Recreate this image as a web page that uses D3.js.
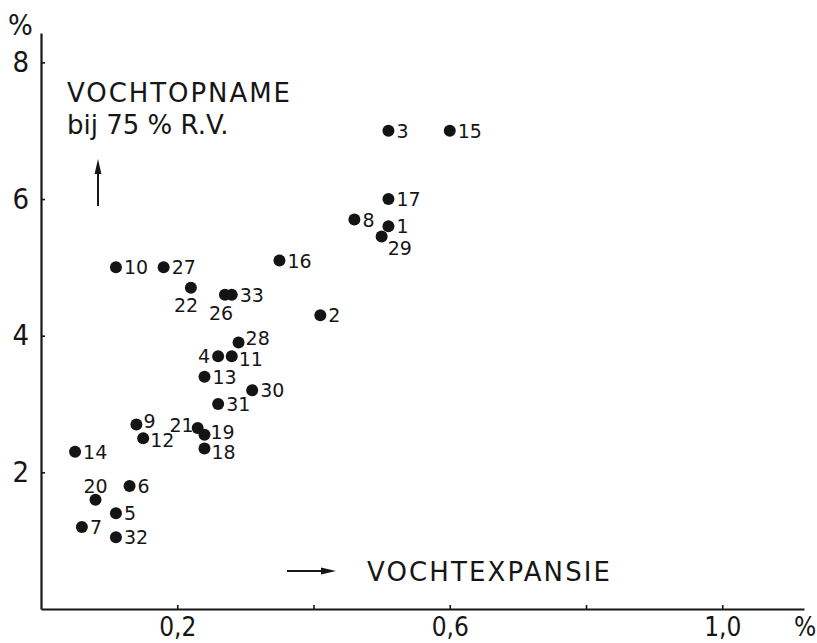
<!DOCTYPE html>
<html>
<head>
<meta charset="utf-8">
<script src="https://cdn.jsdelivr.net/npm/d3@7"></script>
<style>
  html, body { margin: 0; padding: 0; background: #fff; }
  svg { display: block; }
  text { fill: #161616; }
</style>
</head>
<body>
<svg id="chart" width="817" height="643"></svg>
<script>
// Sample numbers and their measured moisture expansion (%) and moisture uptake at 75 % RH (%)
const sampleIds = [1, 2, 3, 4, 5, 6, 7, 8, 9, 10, 11, 12, 13, 14, 15, 16, 17,
                   18, 19, 20, 21, 22, 26, 27, 28, 29, 30, 31, 32, 33];
const expansion = [0.51, 0.41, 0.51, 0.26, 0.11, 0.13, 0.06, 0.46, 0.14, 0.11, 0.28, 0.15, 0.24, 0.05, 0.60, 0.35, 0.51,
                   0.24, 0.24, 0.08, 0.23, 0.22, 0.27, 0.18, 0.29, 0.50, 0.31, 0.26, 0.11, 0.28];
const uptake    = [5.6, 4.3, 7.0, 3.7, 1.4, 1.8, 1.2, 5.7, 2.7, 5.0, 3.7, 2.5, 3.4, 2.3, 7.0, 5.1, 6.0,
                   2.35, 2.55, 1.6, 2.65, 4.7, 4.6, 5.0, 3.9, 5.45, 3.2, 3.0, 1.05, 4.6];

const xTicks = [0.2, 0.4, 0.6, 0.8, 1.0];
const xTickLabels = ["0,2", "", "0,6", "", "1,0"];
const yTicks = [2, 4, 6, 8];
const yTickLabels = ["2", "4", "6", "8"];

const points = sampleIds.map((id, i) => ({ id, x: expansion[i], y: uptake[i] }));

const svg = d3.select("#chart");
const tickFont = '"DejaVu Sans Condensed", "Liberation Sans Narrow", "DejaVu Sans", sans-serif';
const labelFont = '"DejaVu Sans", sans-serif';

const x = d3.scaleLinear().domain([0, 1.12]).range([41, 41 + 1.12 * 681.25]);
const y = d3.scaleLinear().domain([0, 8.43]).range([609, 33]);

// Axes: ticks point into the plot, outer ticks suppressed
const xAxis = d3.axisBottom(x)
  .tickValues(xTicks)
  .tickFormat((d, i) => xTickLabels[i])
  .tickSizeInner(-4).tickSizeOuter(0).tickPadding(9);
const yAxis = d3.axisLeft(y)
  .tickValues(yTicks)
  .tickFormat((d, i) => yTickLabels[i])
  .tickSizeInner(-4).tickSizeOuter(0).tickPadding(12);

const gx = svg.append("g").attr("transform", `translate(0,${y(0)})`).call(xAxis);
const gy = svg.append("g").attr("transform", `translate(${x(0)},0)`).call(yAxis);

[gx, gy].forEach(g => {
  g.select(".domain").attr("stroke", "#161616").attr("stroke-width", 2.2);
  g.selectAll(".tick line").attr("stroke", "#161616").attr("stroke-width", 1.6);
  g.selectAll(".tick text")
    .attr("fill", "#161616")
    .style("font-family", tickFont);
});
gx.selectAll(".tick text").style("font-size", "26px");
gy.selectAll(".tick text").style("font-size", "29px");

// Unit labels
svg.append("text").attr("x", 8).attr("y", 35)
  .style("font-family", tickFont).style("font-size", "29px").text("%");
svg.append("text").attr("x", 794).attr("y", 636)
  .style("font-family", tickFont).style("font-size", "26px").text("%");

// Axis captions
svg.append("text").attr("x", 67).attr("y", 102)
  .style("font-family", labelFont).style("font-size", "26px")
  .attr("textLength", 223).attr("lengthAdjust", "spacing")
  .text("VOCHTOPNAME");
svg.append("text").attr("x", 67).attr("y", 134)
  .style("font-family", labelFont).style("font-size", "26px")
  .text("bij 75 % R.V.");
svg.append("text").attr("x", 367).attr("y", 581)
  .style("font-family", labelFont).style("font-size", "26px")
  .attr("textLength", 243).attr("lengthAdjust", "spacing")
  .text("VOCHTEXPANSIE");

// Direction arrows
function arrow(x1, y1, x2, y2) {
  const ang = Math.atan2(y2 - y1, x2 - x1);
  const len = 15, half = 3.4;
  const bx = x2 - len * Math.cos(ang), by = y2 - len * Math.sin(ang);
  const px = -Math.sin(ang) * half, py = Math.cos(ang) * half;
  svg.append("line")
    .attr("x1", x1).attr("y1", y1).attr("x2", bx).attr("y2", by)
    .attr("stroke", "#161616").attr("stroke-width", 2);
  svg.append("path")
    .attr("d", `M${x2},${y2}L${bx + px},${by + py}L${bx - px},${by - py}Z`)
    .attr("fill", "#161616");
}
arrow(98, 206, 98, 159);
arrow(287, 571, 336, 571);

// Data points
svg.append("g").selectAll("circle")
  .data(points).join("circle")
  .attr("cx", d => x(d.x)).attr("cy", d => y(d.y))
  .attr("r", 6).attr("fill", "#141414");

// Point labels: most sit to the right of the dot; a few are moved to avoid overlaps
const labelPlacement = {
  29: { dx: 6,   dy: 18, anchor: "start" },
  22: { dx: -17, dy: 24, anchor: "start" },
  26: { dx: -16, dy: 25, anchor: "start" },
  4:  { dx: -8,  dy: 7,  anchor: "end" },
  21: { dx: -4,  dy: 4,  anchor: "end" },
  20: { dx: -12, dy: -7, anchor: "start" },
  9:  { dx: 7,   dy: 3,  anchor: "start" },
  12: { dx: 7,   dy: 9,  anchor: "start" },
  28: { dx: 7,   dy: 2,  anchor: "start" },
  11: { dx: 7,   dy: 10, anchor: "start" },
  19: { dx: 6,   dy: 4,  anchor: "start" },
  18: { dx: 7,   dy: 11, anchor: "start" }
};
const place = d => labelPlacement[d.id] || { dx: 8, dy: 7, anchor: "start" };
svg.append("g").selectAll("text")
  .data(points).join("text")
  .attr("x", d => x(d.x) + place(d).dx)
  .attr("y", d => y(d.y) + place(d).dy)
  .attr("text-anchor", d => place(d).anchor)
  .style("font-family", labelFont).style("font-size", "19px")
  .text(d => d.id);
</script>
</body>
</html>
